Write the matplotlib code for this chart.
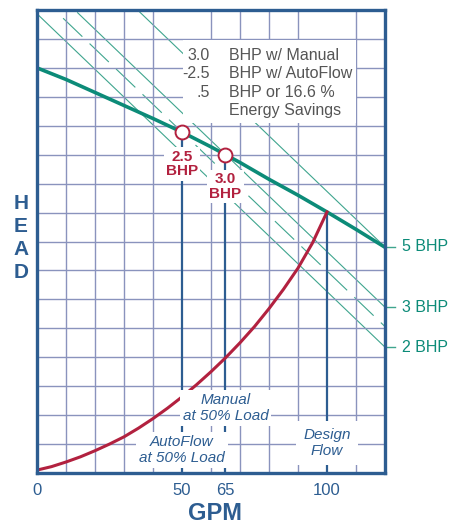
import matplotlib
matplotlib.use("Agg")
import matplotlib.pyplot as plt
import numpy as np
from matplotlib.patches import Rectangle

# colours
NAVY = "#2d5d91"
GRID = "#8a93bd"
TEAL = "#0c8b78"
TEAL_THIN = "#3fa58e"
RED = "#b2213f"
GRAY = "#555555"

plt.rcParams["font.family"] = ["Liberation Sans", "DejaVu Sans"]

# pump curve (head vs GPM)
pump_gpm = [0, 10, 20, 30, 40, 50, 60, 65, 70, 80, 90, 100, 110, 120]
pump_head = [14.0, 13.6, 13.15, 12.7, 12.25, 11.78, 11.27, 11.0, 10.73,
             10.15, 9.6, 9.02, 8.42, 7.8]

# system curve
sys_gpm = [0, 5, 10, 15, 20, 25, 30, 35, 40, 45, 50, 55, 60, 65, 70, 75,
           80, 85, 90, 95, 100]
sys_head = [0.1, 0.22, 0.38, 0.56, 0.77, 1.0, 1.25, 1.55, 1.88, 2.24, 2.63,
            3.05, 3.5, 3.98, 4.5, 5.06, 5.68, 6.35, 7.08, 7.95, 9.02]

# constant-power lines: head at the right edge (120 GPM), common slope
bhp_names = ["5 BHP", "3 BHP", "2.5 BHP", "2 BHP"]
bhp_right_head = [7.81, 5.73, 5.06, 4.35]
bhp_start_gpm = [34.5, 14.0, 9.0, 0.5]
bhp_slope = -0.096

# operating points
op_gpm = [50, 65]
op_head = [11.78, 11.0]
op_labels = ["2.5\nBHP", "3.0\nBHP"]
design_gpm = 100
design_head = 9.02

tick_pos = [0, 50, 65, 100]
tick_lab = ["0", "50", "65", "100"]

fig = plt.figure(figsize=(4.54, 5.25), dpi=100)
ax = fig.add_axes([37 / 454, 1 - 473 / 525, 348 / 454, 463 / 525])
ax.set_xlim(0, 120)
ax.set_ylim(0, 16)

# grid
ax.set_xticks(np.arange(0, 121, 10), minor=True)
ax.set_yticks(np.arange(0, 17, 1), minor=True)
ax.set_yticks([])
ax.grid(which="minor", color=GRID, lw=1.0, zorder=0)
ax.set_xticks(tick_pos)
ax.set_xticklabels(tick_lab, fontsize=12, color=NAVY)
ax.tick_params(which="both", length=0, pad=7)
for s in ax.spines.values():
    s.set_color(NAVY)
    s.set_linewidth(2.4)
    s.set_zorder(10)

# power lines
for name, hr, x0 in zip(bhp_names, bhp_right_head, bhp_start_gpm):
    xs = np.array([x0, 120])
    ys = hr + bhp_slope * (xs - 120)
    ls = (0, (24, 9)) if name == "2.5 BHP" else "-"
    ax.plot(xs, ys, color=TEAL_THIN, lw=0.8, ls=ls, zorder=1)
    if name != "2.5 BHP":
        ax.plot([120, 123.5], [hr, hr], color=TEAL_THIN, lw=1.0, clip_on=False)
        ax.text(126.0, hr, name, color=TEAL, fontsize=11.5, va="center",
                ha="left", clip_on=False)

# vertical drop lines
for x, h in zip(op_gpm + [design_gpm], op_head + [design_head]):
    ax.plot([x, x], [0, h], color=NAVY, lw=1.6, zorder=2)

ax.plot(pump_gpm, pump_head, color=TEAL, lw=2.6, zorder=3)
ax.plot(sys_gpm, sys_head, color=RED, lw=2.2, zorder=3)
ax.plot(op_gpm, op_head, "o", ms=10, mfc="white", mec=RED, mew=1.4, zorder=6)

box = dict(boxstyle="square,pad=0.15", fc="white", ec="none")
for x, h, lab in zip(op_gpm, op_head, op_labels):
    ax.text(x, h - 1.1, lab, color=RED, fontsize=11, fontweight="bold",
            ha="center", va="center", linespacing=1.05, bbox=box, zorder=5)

# savings note
ax.add_patch(Rectangle((50.3, 12.1), 59.7, 2.86, fc="white", ec="none", zorder=4))
ax.text(59.7, 14.7, "3.0\n-2.5\n.5", color=GRAY, fontsize=11.5, ha="right",
        va="top", linespacing=1.3, zorder=5)
ax.text(66.2, 14.7, "BHP w/ Manual\nBHP w/ AutoFlow\nBHP or 16.6 %\nEnergy Savings",
        color=GRAY, fontsize=11.5, ha="left", va="top", linespacing=1.3, zorder=5)

ibox = dict(boxstyle="square,pad=0.2", fc="white", ec="none")
ax.text(65, 2.25, "Manual\nat 50% Load", color=NAVY, fontsize=11, style="italic",
        ha="center", va="center", bbox=ibox, zorder=5)
ax.text(50, 0.8, "AutoFlow\nat 50% Load", color=NAVY, fontsize=11, style="italic",
        ha="center", va="center", bbox=ibox, zorder=5)
ax.text(100, 1.05, "Design\nFlow", color=NAVY, fontsize=11, style="italic",
        ha="center", va="center", bbox=dict(boxstyle="square,pad=0.45", fc="white", ec="none"),
        zorder=5)

fig.text(21 / 454, 1 - 238 / 525, "H\nE\nA\nD", color=NAVY, fontsize=15,
         fontweight="bold", ha="center", va="center", linespacing=1.25)
fig.text(215 / 454, 1 - 513 / 525, "GPM", color=NAVY, fontsize=17,
         fontweight="bold", ha="center", va="center")

fig.savefig("out.png", dpi=100)
